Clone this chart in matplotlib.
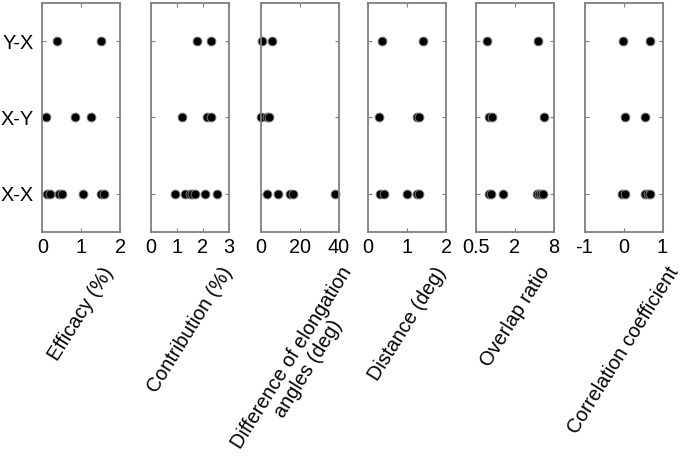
import matplotlib
matplotlib.use("Agg")
import matplotlib.pyplot as plt
from matplotlib.ticker import FixedLocator, NullLocator, FixedFormatter

plt.rcParams['font.family'] = ['Liberation Sans', 'DejaVu Sans']

categories = ['X-X', 'X-Y', 'Y-X']

efficacy = {
    'X-X': [0.12, 0.21, 0.43, 0.51, 1.05, 1.51, 1.58],
    'X-Y': [0.09, 0.83, 1.26],
    'Y-X': [0.38, 1.50],
}
contribution = {
    'X-X': [0.95, 1.33, 1.50, 1.58, 1.70, 2.07, 2.54],
    'X-Y': [1.19, 2.15, 2.30],
    'Y-X': [1.78, 2.32],
}
elong_diff = {
    'X-X': [3.2, 9.0, 14.8, 16.8, 38.2],
    'X-Y': [0.0, 3.3, 4.5],
    'Y-X': [0.6, 6.0],
}
distance = {
    'X-X': [0.31, 0.40, 1.01, 1.25, 1.30],
    'X-Y': [0.29, 1.25, 1.30],
    'Y-X': [0.37, 1.41],
}
overlap = {
    'X-X': [0.79, 0.86, 1.31, 4.3, 4.7, 5.1, 5.5],
    'X-Y': [0.80, 0.89, 5.66],
    'Y-X': [0.74, 4.53],
}
correlation = {
    'X-X': [-0.04, 0.03, 0.55, 0.62, 0.68],
    'X-Y': [0.05, 0.56],
    'Y-X': [-0.02, 0.68],
}

panels = [
    (efficacy, 'Efficacy (%)', (0, 2), [0, 1, 2], ['0', '1', '2'], False),
    (contribution, 'Contribution (%)', (0, 3), [0, 1, 2, 3], ['0', '1', '2', '3'], False),
    (elong_diff, 'Difference of elongation\nangles (deg)', (0, 40), [0, 20, 40], ['0', '20', '40'], False),
    (distance, 'Distance (deg)', (0, 2), [0, 1, 2], ['0', '1', '2'], False),
    (overlap, 'Overlap ratio', (0.5, 8), [0.5, 2, 8], ['0.5', '2', '8'], True),
    (correlation, 'Correlation coefficient', (-1, 1), [-1, 0, 1], ['-1', '0', '1'], False),
]

W, H = 680, 457
fig = plt.figure(figsize=(W / 100, H / 100), dpi=100)

lefts = [42.3, 150.7, 260.7, 368.0, 476.0, 584.5]
ax_w = 78.0
ax_top = 3.0
ax_bot = 232.0
label_top = 263.5

edge = '#808080'
for i, (data, label, xlim, ticks, ticklabels, logx) in enumerate(panels):
    ax = fig.add_axes([lefts[i] / W, (H - ax_bot) / H, ax_w / W, (ax_bot - ax_top) / H])
    for j, cat in enumerate(categories):
        xs = data[cat]
        ax.plot(xs, [j + 1] * len(xs), linestyle='none', marker='o',
                markersize=6.3, markerfacecolor='black',
                markeredgecolor='#7a7a7a', markeredgewidth=0.7, clip_on=False)
    if logx:
        ax.set_xscale('log', base=2)
    ax.set_xlim(*xlim)
    ax.set_ylim(0.5, 3.5)
    ax.xaxis.set_major_locator(FixedLocator(ticks))
    ax.xaxis.set_major_formatter(FixedFormatter(ticklabels))
    ax.xaxis.set_minor_locator(NullLocator())
    ax.set_yticks([1, 2, 3])
    if i == 0:
        ax.set_yticklabels(categories)
    else:
        ax.set_yticklabels([])
    ax.tick_params(axis='both', direction='in', length=3, width=0.8, color=edge,
                   top=True, right=True, labelsize=14.3, pad=4)
    ax.tick_params(axis='y', pad=6)
    for sp in ax.spines.values():
        sp.set_color(edge)
        sp.set_linewidth(1.3)
    cx = (lefts[i] + ax_w / 2) / W
    fig.text(cx, (H - label_top) / H, label, rotation=58,
             ha='center', va='top', multialignment='center', fontsize=14.3,
             linespacing=1.05)

fig.savefig('out.png', dpi=100)
